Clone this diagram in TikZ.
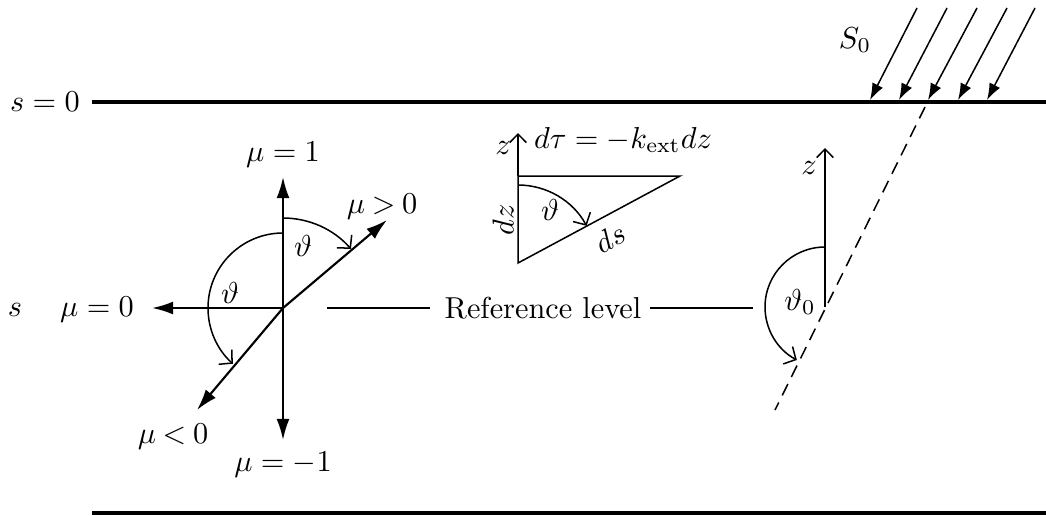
\documentclass[tikz,border=0pt]{standalone}
\usetikzlibrary{arrows.meta}
\begin{document}
\begin{tikzpicture}[x=0.33pt,y=0.33pt,
  thickline/.style={line width=1.1pt},
  thinline/.style={line width=0.5pt},
  axis/.style={line width=0.7pt,-{Latex[length=7pt,width=4.3pt]}},
  sunray/.style={line width=0.5pt,-{Latex[length=5.5pt,width=3.9pt]}},
  arcarrow/.style={line width=0.5pt,-{Straight Barb[length=3pt,width=6.5pt]}},
  zarrow/.style={line width=0.5pt,-{Straight Barb[length=2.8pt,width=5.5pt]}},
  lbl/.style={inner sep=0pt}]
\useasboundingbox (0,0) rectangle (1046,515);
% boundary lines
\coordinate (topL) at (92,413);
\coordinate (topR) at (1046,413);
\coordinate (botL) at (92,2);
\coordinate (botR) at (1046,2);
\draw[thickline] (topL) -- (topR);
\draw[thickline] (botL) -- (botR);
\node[lbl] (s0lbl) at (45,413) {$s=0$};
\node[lbl] (slbl) at (15,205) {$s$};
% mu axes
\coordinate (O) at (283,207);
\coordinate (upT) at (283,338);
\coordinate (dnT) at (283,75);
\coordinate (lfT) at (152,207);
\coordinate (urT) at (387,295);
\coordinate (llT) at (197,105);
\draw[axis] (O) -- (upT);
\draw[axis] (O) -- (dnT);
\draw[axis] (O) -- (lfT);
\draw[axis] (O) -- (urT);
\draw[axis] (O) -- (llT);
\node[lbl] (mu1) at (283,360) {$\mu=1$};
\node[lbl] (mum1) at (283,50) {$\mu=-1$};
\node[lbl] (mu0) at (97,205) {$\mu=0$};
\node[lbl] (mupos) at (382,308) {$\mu\mathbin{>}0$};
\node[lbl] (muneg) at (173,78) {$\mu\mathbin{<}0$};
\coordinate (a1s) at (283,297);
\draw[arcarrow] (a1s) arc[start angle=90,end angle=41,radius=90];
\coordinate (a2s) at (283,282);
\draw[arcarrow] (a2s) arc[start angle=90,end angle=228,radius=75];
\node[lbl] (th1) at (303,269) {$\vartheta$};
\node[lbl] (th2) at (230,222) {$\vartheta$};
% reference level
\node[lbl] (ref) at (543,207) {Reference level};
\coordinate (rl1) at (327,207);
\coordinate (rl2) at (430,207);
\coordinate (rr1) at (650,207);
\coordinate (rr2) at (753,207);
\draw[thinline] (rl1) -- (rl2);
\draw[thinline] (rr1) -- (rr2);
% triangle
\coordinate (B) at (518,252);
\coordinate (T) at (518,339);
\coordinate (R) at (680,339);
\coordinate (zT) at (518,382);
\draw[thinline] (B) -- (T) -- (R) -- cycle;
\draw[zarrow] (T) -- (zT);
\coordinate (a3s) at (518,330);
\draw[arcarrow] (a3s) arc[start angle=90,end angle=28.5,radius=78];
\node[lbl] (zlbl1) at (503,367) {$z$};
\node[lbl] (dtau) at (623,375) {$d\tau=-k_{\mathrm{ext}}dz$};
\node[lbl,rotate=90] (dzlbl) at (503,295) {$dz$};
\node[lbl] (th3) at (550,305) {$\vartheta$};
\node[lbl,rotate=28] (dslbl) at (610,277) {$ds$};
% sun rays
\foreach \i/\xs/\xe in {1/917/870,2/947/899,3/977/928,4/1007/958,5/1035/987}{
  \coordinate (sr\i) at (\xs,507);
  \coordinate (se\i) at (\xe,415);
  \draw[sunray] (sr\i) -- (se\i);
}
\node[lbl] (S0) at (855,475) {$S_0$};
\coordinate (dA) at (925,408);
\coordinate (dB) at (775,105);
\draw[thinline,dash pattern=on 4.2pt off 2.6pt] (dA) -- (dB);
\coordinate (zb) at (825,208);
\coordinate (zt) at (825,367);
\draw[zarrow] (zb) -- (zt);
\node[lbl] (zlbl2) at (809,347) {$z$};
\coordinate (a4s) at (825,268);
\draw[arcarrow] (a4s) arc[start angle=90,end angle=242,radius=60];
\node[lbl] (th0) at (800,213) {$\vartheta_0$};
\end{tikzpicture}
\end{document}
